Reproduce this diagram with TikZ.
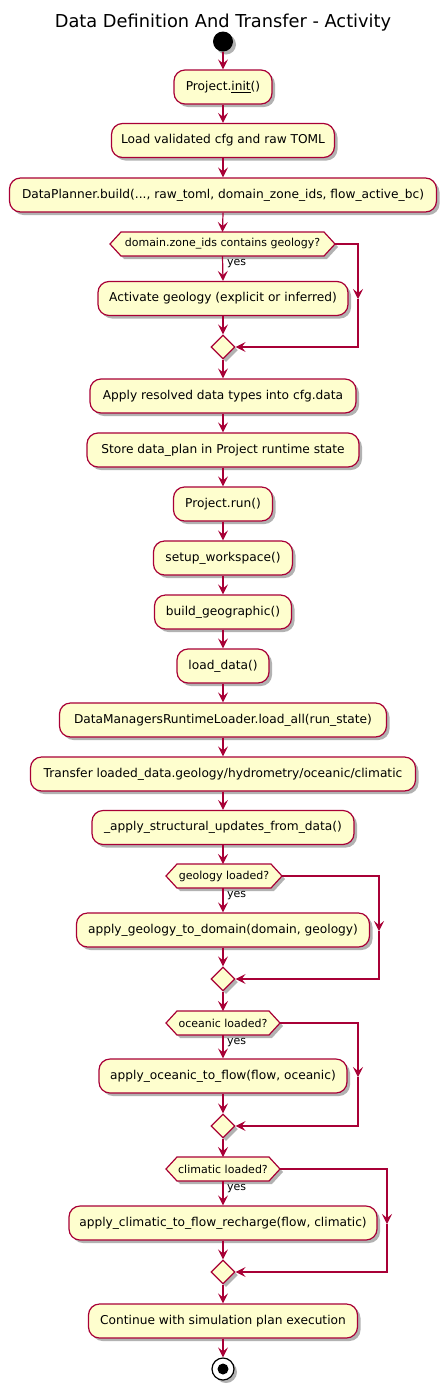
\documentclass[tikz,border=0pt]{standalone}
\usepackage{fontspec}
\setmainfont{DejaVu Sans}
\usetikzlibrary{arrows.meta,shapes.geometric,shadows}
\definecolor{pfill}{HTML}{FEFECE}
\definecolor{pline}{HTML}{A80036}
\newcommand\dechex[3]{%
  \draw[hexstyle] (#1,#3) -- (#1+11,#3-12) -- (#2-11,#3-12) -- (#2,#3) -- (#2-11,#3+12) -- (#1+11,#3+12) -- cycle;}
\begin{document}
\begin{tikzpicture}[x=1pt,y=-1pt,
  shadowed/.style={drop shadow={shadow xshift=3pt,shadow yshift=-3pt,opacity=0.3,fill=black}},
  act/.style={draw=pline, fill=pfill, line width=1.2pt, rounded corners=11pt,
    minimum height=34pt, inner xsep=0pt, inner ysep=0pt,
    font=\fontsize{12.2}{14}\selectfont, shadowed},
  hexstyle/.style={draw=pline, fill=pfill, line width=1.2pt, shadowed},
  dectext/.style={minimum height=24pt, inner sep=0pt, font=\fontsize{11}{13}\selectfont},
  merge/.style={diamond, aspect=1, draw=pline, fill=pfill, line width=1.2pt,
    minimum width=24pt, minimum height=24pt, inner sep=0pt, shadowed},
  flow/.style={draw=pline, line width=1.2pt, -{Stealth[length=10pt,width=10pt,inset=4pt]}},
  lbl/.style={anchor=north west, inner sep=0pt, font=\fontsize{11}{13}\selectfont},
]
\useasboundingbox (0,0) rectangle (446,1390);

\node[font=\fontsize{17.8}{20}\selectfont, anchor=base] (title) at (223,27) {Data Definition And Transfer - Activity};

\node[circle, fill=black, minimum size=20pt, inner sep=0pt, shadowed] (start) at (223,41.5) {};

\node[act, minimum width=98pt]  (b1) at (223,87)    {Project.\underline{init}()};
\node[act, minimum width=223pt] (b2) at (223,140.5) {Load validated cfg and raw TOML};
\node[act, minimum width=427pt] (b3) at (223,195)   {DataPlanner.build(..., raw\_toml, domain\_zone\_ids, flow\_active\_bc)};

\dechex{110}{335}{244}
\node[dectext, minimum width=225pt] (d1) at (222.5,244) {domain.zone\_ids contains geology?};
\node[lbl] (y1) at (227,259.5) {yes};
\node[act, minimum width=250pt] (b4) at (223,298.5) {Activate geology (explicit or inferred)};
\node[merge] (m1) at (223,347) {};

\node[act, minimum width=266pt] (b5)  at (223,396) {Apply resolved data types into cfg.data};
\node[act, minimum width=272pt] (b6)  at (223,450) {Store data\_plan in Project runtime state};
\node[act, minimum width=99pt]  (b7)  at (223,504) {Project.run()};
\node[act, minimum width=139pt] (b8)  at (223,558) {setup\_workspace()};
\node[act, minimum width=137pt] (b9)  at (223,612) {build\_geographic()};
\node[act, minimum width=92pt]  (b10) at (223,666) {load\_data()};
\node[act, minimum width=327pt] (b11) at (223,720) {DataManagersRuntimeLoader.load\_all(run\_state)};
\node[act, minimum width=385pt] (b12) at (223,774) {Transfer loaded\_data.geology/hydrometry/oceanic/climatic};
\node[act, minimum width=262pt] (b13) at (223,827.5) {\_apply\_structural\_updates\_from\_data()};

\dechex{166}{282}{876}
\node[dectext, minimum width=116pt] (d2) at (224,876) {geology loaded?};
\node[lbl] (y2) at (227,891.5) {yes};
\node[act, minimum width=293pt] (b14) at (223,930) {apply\_geology\_to\_domain(domain, geology)};
\node[merge] (m2) at (223,979) {};

\dechex{166}{280}{1023}
\node[dectext, minimum width=114pt] (d3) at (223,1023) {oceanic loaded?};
\node[lbl] (y3) at (227,1038.5) {yes};
\node[act, minimum width=248pt] (b15) at (223,1076) {apply\_oceanic\_to\_flow(flow, oceanic)};
\node[merge] (m3) at (223,1126) {};

\dechex{166}{280}{1169}
\node[dectext, minimum width=114pt] (d4) at (223,1169) {climatic loaded?};
\node[lbl] (y4) at (227,1184.5) {yes};
\node[act, minimum width=308pt] (b16) at (223,1223) {apply\_climatic\_to\_flow\_recharge(flow, climatic)};
\node[merge] (m4) at (223,1272) {};

\node[act, minimum width=269pt] (b17) at (223,1321) {Continue with simulation plan execution};

\node[circle, draw=black, line width=1.2pt, fill=white, minimum size=22pt, inner sep=0pt, shadowed] (stop) at (223,1369) {};
\node[circle, fill=black, minimum size=11pt, inner sep=0pt] (stopin) at (stop) {};

% main flow
\draw[flow] (start.south) -- (b1.north);
\draw[flow] (b1.south) -- (b2.north);
\draw[flow] (b2.south) -- (b3.north);
\draw[flow] (b3.south) -- (d1.south |- 0,232);
\draw[flow] (d1.south) -- (b4.north);
\draw[flow] (b4.south) -- (m1.north);
\draw[flow] (m1.south) -- (b5.north);
\draw[flow] (b5.south) -- (b6.north);
\draw[flow] (b6.south) -- (b7.north);
\draw[flow] (b7.south) -- (b8.north);
\draw[flow] (b8.south) -- (b9.north);
\draw[flow] (b9.south) -- (b10.north);
\draw[flow] (b10.south) -- (b11.north);
\draw[flow] (b11.south) -- (b12.north);
\draw[flow] (b12.south) -- (b13.north);
\draw[flow] (b13.south) -- (223,864);
\draw[flow] (223,888) -- (b14.north);
\draw[flow] (b14.south) -- (m2.north);
\draw[flow] (m2.south) -- (223,1011);
\draw[flow] (223,1035) -- (b15.north);
\draw[flow] (b15.south) -- (m3.north);
\draw[flow] (m3.south) -- (223,1157);
\draw[flow] (223,1181) -- (b16.north);
\draw[flow] (b16.south) -- (m4.north);
\draw[flow] (m4.south) -- (b17.north);
\draw[flow] (b17.south) -- (stop.north);

% else branches
\coordinate (r1) at (358,299);
\draw[flow] (d1.east) -| (r1);
\draw[flow] (r1) |- (m1.east);
\coordinate (r2) at (379,931);
\draw[flow] (d2.east) -| (r2);
\draw[flow] (r2) |- (m2.east);
\coordinate (r3) at (358,1077);
\draw[flow] (d3.east) -| (r3);
\draw[flow] (r3) |- (m3.east);
\coordinate (r4) at (387,1224);
\draw[flow] (d4.east) -| (r4);
\draw[flow] (r4) |- (m4.east);
\end{tikzpicture}
\end{document}
